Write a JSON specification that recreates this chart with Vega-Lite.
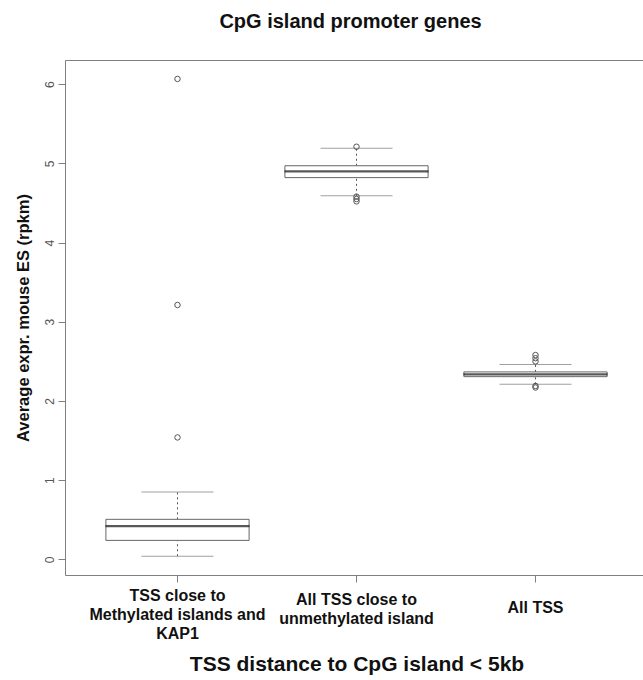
{
  "$schema": "https://vega.github.io/schema/vega-lite/v6.json",
  "autosize": {"type": "none"},
  "padding": {"left": 65, "top": 60, "right": -5, "bottom": 105},
  "width": 583,
  "height": 515,
  "background": "white",
  "title": {"text": "CpG island promoter genes", "fontSize": 20, "fontWeight": "bold", "font": "Liberation Sans", "color": "#111", "anchor": "middle", "baseline": "middle", "offset": 18, "dx": -6},
  "config": {
    "font": "Liberation Sans",
    "view": {"stroke": "#808080", "strokeWidth": 1},
    "axisX": {"domain": false, "tickSize": 7, "tickColor": "#808080", "labelFontSize": 16, "labelFontWeight": "bold", "labelColor": "#111", "labelAngle": 0, "labelBaseline": "middle", "labelLineHeight": 19, "labelLimit": 400, "titleFontSize": 21, "titleFontWeight": "bold", "titleColor": "#111", "titleY": 89, "titleBaseline": "middle", "grid": false},
    "axisY": {"domain": false, "tickSize": 7, "tickColor": "#808080", "labelFontSize": 12, "labelColor": "#555", "labelAngle": -90, "labelAlign": "center", "labelBaseline": "middle", "labelPadding": 9, "titleFontSize": 16.5, "titleFontWeight": "bold", "titleColor": "#111", "titleAngle": -90, "titleX": -42, "titleY": 257.5, "titleAlign": "center", "titleBaseline": "middle", "grid": false}
  },
  "datasets": {
    "boxes": [
      {"group": "TSS close to Methylated islands and KAP1", "lower": 0.04, "q1": 0.24, "median": 0.42, "q3": 0.506, "upper": 0.85},
      {"group": "All TSS close to unmethylated island", "lower": 4.59, "q1": 4.82, "median": 4.9, "q3": 4.97, "upper": 5.19},
      {"group": "All TSS", "lower": 2.21, "q1": 2.307, "median": 2.337, "q3": 2.367, "upper": 2.46}
    ],
    "outliers": [
      {"group": "TSS close to Methylated islands and KAP1", "value": 6.066},
      {"group": "TSS close to Methylated islands and KAP1", "value": 3.212},
      {"group": "TSS close to Methylated islands and KAP1", "value": 1.54},
      {"group": "All TSS close to unmethylated island", "value": 5.21},
      {"group": "All TSS close to unmethylated island", "value": 4.58},
      {"group": "All TSS close to unmethylated island", "value": 4.55},
      {"group": "All TSS close to unmethylated island", "value": 4.52},
      {"group": "All TSS", "value": 2.58},
      {"group": "All TSS", "value": 2.54},
      {"group": "All TSS", "value": 2.5},
      {"group": "All TSS", "value": 2.19},
      {"group": "All TSS", "value": 2.17}
    ]
  },
  "encoding": {
    "x": {
      "field": "group", "type": "nominal",
      "sort": ["TSS close to Methylated islands and KAP1", "All TSS close to unmethylated island", "All TSS"],
      "scale": {"type": "band", "paddingInner": 0.2, "paddingOuter": 0.2285},
      "title": "TSS distance to CpG island < 5kb",
      "axis": {
        "labelExpr": "datum.value == 'TSS close to Methylated islands and KAP1' ? ['TSS close to', 'Methylated islands and', 'KAP1'] : datum.value == 'All TSS close to unmethylated island' ? ['All TSS close to', 'unmethylated island'] : datum.value",
        "labelPadding": {"condition": [{"test": "datum.value == 'TSS close to Methylated islands and KAP1'", "value": 13}, {"test": "datum.value == 'All TSS close to unmethylated island'", "value": 17}], "value": 25}
      }
    }
  },
  "layer": [
    {
      "data": {"name": "boxes"},
      "mark": {"type": "rule", "color": "#555", "strokeWidth": 1, "strokeDash": [2, 3]},
      "encoding": {
        "y": {"field": "q3", "type": "quantitative", "title": "Average expr. mouse ES (rpkm)", "scale": {"domain": [-0.197, 6.305], "nice": false, "zero": false}, "axis": {"values": [0, 1, 2, 3, 4, 5, 6]}},
        "y2": {"field": "upper"}
      }
    },
    {
      "data": {"name": "boxes"},
      "mark": {"type": "rule", "color": "#555", "strokeWidth": 1, "strokeDash": [2, 3]},
      "encoding": {
        "y": {"field": "lower", "type": "quantitative", "title": "Average expr. mouse ES (rpkm)", "scale": {"domain": [-0.197, 6.305], "nice": false, "zero": false}, "axis": {"values": [0, 1, 2, 3, 4, 5, 6]}},
        "y2": {"field": "q1"}
      }
    },
    {
      "data": {"name": "boxes"},
      "mark": {"type": "tick", "color": "#777", "size": 72, "thickness": 1, "orient": "horizontal"},
      "encoding": {
        "y": {"field": "upper", "type": "quantitative", "title": "Average expr. mouse ES (rpkm)", "scale": {"domain": [-0.197, 6.305], "nice": false, "zero": false}, "axis": {"values": [0, 1, 2, 3, 4, 5, 6]}}
      }
    },
    {
      "data": {"name": "boxes"},
      "mark": {"type": "tick", "color": "#777", "size": 72, "thickness": 1, "orient": "horizontal"},
      "encoding": {
        "y": {"field": "lower", "type": "quantitative", "title": "Average expr. mouse ES (rpkm)", "scale": {"domain": [-0.197, 6.305], "nice": false, "zero": false}, "axis": {"values": [0, 1, 2, 3, 4, 5, 6]}}
      }
    },
    {
      "data": {"name": "boxes"},
      "mark": {"type": "bar", "fill": "white", "stroke": "#666", "strokeWidth": 1},
      "encoding": {
        "y": {"field": "q1", "type": "quantitative", "title": "Average expr. mouse ES (rpkm)", "scale": {"domain": [-0.197, 6.305], "nice": false, "zero": false}, "axis": {"values": [0, 1, 2, 3, 4, 5, 6]}},
        "y2": {"field": "q3"}
      }
    },
    {
      "data": {"name": "boxes"},
      "mark": {"type": "tick", "color": "#111", "size": 144, "thickness": 2.2, "orient": "horizontal"},
      "encoding": {
        "y": {"field": "median", "type": "quantitative", "title": "Average expr. mouse ES (rpkm)", "scale": {"domain": [-0.197, 6.305], "nice": false, "zero": false}, "axis": {"values": [0, 1, 2, 3, 4, 5, 6]}}
      }
    },
    {
      "data": {"name": "outliers"},
      "mark": {"type": "point", "shape": "circle", "filled": false, "color": "#555", "size": 30, "strokeWidth": 1, "opacity": 1},
      "encoding": {
        "y": {"field": "value", "type": "quantitative", "title": "Average expr. mouse ES (rpkm)", "scale": {"domain": [-0.197, 6.305], "nice": false, "zero": false}, "axis": {"values": [0, 1, 2, 3, 4, 5, 6]}}
      }
    }
  ]
}
